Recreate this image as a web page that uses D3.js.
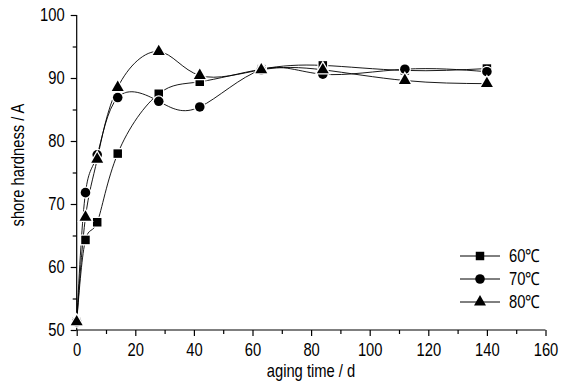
<!DOCTYPE html>
<html lang="en">
  <head>
    <meta charset="utf-8">
    <title>Shore hardness vs aging time</title>
    <script src="https://d3js.org/d3.v7.min.js"></script>
    <style>
    body { margin: 0; background: #fff; }
    text { font-family: "Liberation Sans", Arial, sans-serif; fill: #000; font-size: 18px; }
    </style>
  </head>
  <body>
    <div id="chart"></div>

    <script>
        // aging time in days
        const days = [0, 3, 7, 14, 28, 42, 63, 84, 112, 140]
        // shore hardness (A) for each aging temperature
        const h60 = [51.3, 64.3, 67.1, 78.0, 87.5, 89.4, 91.4, 92.0, 91.2, 91.5]
        const h70 = [51.3, 71.8, 77.8, 86.9, 86.3, 85.4, 91.3, 90.6, 91.4, 91.0]
        const h80 = [51.3, 67.9, 77.1, 88.5, 94.2, 90.4, 91.3, 91.3, 89.6, 89.1]
        const seriesNames = ["60℃", "70℃", "80℃"]
        const xTicks = [0, 20, 40, 60, 80, 100, 120, 140, 160]
        const yTicks = [50, 60, 70, 80, 90, 100]

        const measurements = {
            width: 566,
            height: 385,
            left: 76.7,
            right: 545.5,
            top: 15,
            bottom: 330
        }
        // the original uses a condensed face, so squeeze the text horizontally
        const narrow = 0.82

        const series = [
            { name: seriesNames[0], values: h60, shape: d3.symbolSquare, size: 72 },
            { name: seriesNames[1], values: h70, shape: d3.symbolCircle, size: 72 },
            { name: seriesNames[2], values: h80, shape: d3.symbolTriangle, size: 62 }
        ]

        const svg = d3.select("#chart").append("svg")
            .attr("width", measurements.width)
            .attr("height", measurements.height)

        const scaleX = d3.scaleLinear()
            .domain([0, 160])
            .range([measurements.left, measurements.right])

        const scaleY = d3.scaleLinear()
            .domain([50, 100])
            .range([measurements.bottom, measurements.top])

        drawAxes()

        // spline lines
        const line = d3.line()
            .x((d, i) => scaleX(days[i]))
            .y(d => scaleY(d))
            .curve(d3.curveNatural)

        series.forEach(function (s) {
            svg.append("path")
                .attr("d", line(s.values))
                .attr("fill", "none")
                .attr("stroke", "#000")
                .attr("stroke-width", 0.9)
        })

        // markers, with a small white halo so the lines break around them
        series.forEach(function (s) {
            svg.append("g").selectAll("path")
                .data(s.values)
                .enter()
                .append("path")
                .attr("d", d3.symbol().type(s.shape).size(s.size))
                .attr("transform", (d, i) => "translate(" + scaleX(days[i]) + "," + scaleY(d) + ")")
                .attr("fill", "#000")
                .attr("stroke", "#fff")
                .attr("stroke-width", 2.5)
                .style("paint-order", "stroke")
        })

        // legend
        const legend = svg.append("g")
        series.forEach(function (s, i) {
            const y = 256 + i * 23
            legend.append("line")
                .attr("x1", 460).attr("x2", 500)
                .attr("y1", y).attr("y2", y)
                .attr("stroke", "#000")
                .attr("stroke-width", 1)
            legend.append("path")
                .attr("d", d3.symbol().type(s.shape).size(s.size))
                .attr("transform", "translate(480," + y + ")")
                .attr("fill", "#000")
            legend.append("text")
                .attr("transform", "translate(509," + (y + 6) + ") scale(" + narrow + ",1)")
                .text(s.name)
        })

        function drawAxes() {
            const xAxis = d3.axisBottom(scaleX)
                .tickValues(xTicks)
                .tickSize(6)
                .tickPadding(7)
                .tickFormat(d3.format("d"))

            const xMinor = d3.axisBottom(scaleX)
                .tickValues(d3.range(10, 160, 20))
                .tickSize(4)
                .tickFormat("")

            const yAxis = d3.axisLeft(scaleY)
                .tickValues(yTicks)
                .tickSize(6)
                .tickPadding(6)
                .tickFormat(d3.format("d"))

            const yMinor = d3.axisLeft(scaleY)
                .tickValues(d3.range(55, 100, 10))
                .tickSize(4)
                .tickFormat("")

            const gx = svg.append("g")
                .attr("transform", "translate(0," + measurements.bottom + ")")
                .call(xAxis)
            const gxm = svg.append("g")
                .attr("transform", "translate(0," + measurements.bottom + ")")
                .call(xMinor)

            const gy = svg.append("g")
                .attr("transform", "translate(" + measurements.left + ",0)")
                .call(yAxis)
            const gym = svg.append("g")
                .attr("transform", "translate(" + measurements.left + ",0)")
                .call(yMinor)

            gxm.select(".domain").remove()
            gym.select(".domain").remove()

            // plain axis lines without end caps
            gx.select(".domain").attr("d", "M" + measurements.left + ",0H" + measurements.right)
            gy.select(".domain").attr("d", "M0," + measurements.top + "V" + measurements.bottom)

            svg.selectAll(".domain").attr("stroke", "#000").attr("stroke-width", 1.2)
            svg.selectAll(".tick line").attr("stroke", "#000").attr("stroke-width", 1.2)
            svg.selectAll("g").attr("font-family", null).attr("font-size", null)

            gx.selectAll(".tick text")
                .attr("transform", "scale(" + narrow + ",1)")
            gy.selectAll(".tick text")
                .attr("x", -12 / narrow)
                .attr("transform", "scale(" + narrow + ",1)")

            // axis titles
            svg.append("text")
                .attr("transform", "translate(311,377) scale(" + narrow + ",1)")
                .style("text-anchor", "middle")
                .text("aging time / d")

            svg.append("text")
                .attr("transform", "translate(24,165) rotate(-90) scale(" + narrow + ",1)")
                .style("text-anchor", "middle")
                .text("shore hardness / A")
        }
    </script>
  </body>
</html>
